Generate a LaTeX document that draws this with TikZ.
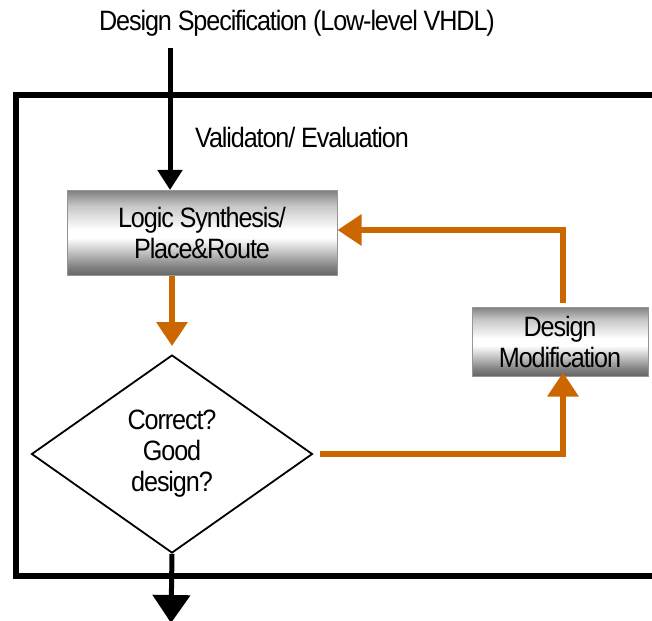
\documentclass[tikz,border=0pt]{standalone}
\usepackage{fontspec}
\setmainfont{Liberation Sans}[FakeStretch=0.9,LetterSpace=-4]
\usetikzlibrary{shapes.geometric,arrows.meta}
\definecolor{flow}{RGB}{204,102,0}
\definecolor{boxline}{RGB}{150,150,150}
\pgfdeclareverticalshading{metal}{100bp}{color(0bp)=(black!60); color(25bp)=(black!60); color(30bp)=(black!50); color(36bp)=(black!32); color(47bp)=(white); color(52bp)=(white); color(66bp)=(black!22); color(75bp)=(black!50); color(100bp)=(black!50)}
\tikzset{
  txt/.style={font=\fontsize{28}{31}\selectfont, align=center, inner sep=0pt},
  metalbox/.style={txt, shading=metal, draw=boxline, line width=1pt},
  decision/.style={txt, shape=diamond, draw=black, line width=1.8pt, minimum width=281pt, minimum height=198pt, aspect=1.42},
  frameline/.style={line width=6pt, black},
  blackarrow/.style={line width=5pt, black},
  orangearrow/.style={line width=6pt, flow, -{Triangle[width=30pt,length=24pt]}},
}
\begin{document}
\begin{tikzpicture}[x=1pt,y=-1pt]
\useasboundingbox (0,0) rectangle (652,620);
% frame
\draw[frameline] (652,95) -- (15.5,95) -- (15.5,575.5) -- (652,575.5);
% nodes
\node[txt] (spec) at (297,23) {Design Specification (Low-level VHDL)};
\node[txt, anchor=west] (val) at (195,137) {Validaton/ Evaluation};
\node[metalbox, minimum width=270pt, minimum height=85pt] (ls) at (202,233) {Logic Synthesis/\\Place\&Route};
\node[metalbox, minimum width=176pt, minimum height=69pt] (dm) at (560,341.5) {Design\\Modification};
\node[decision] (dec) at (172,454) {Correct?\\Good\\design?};
\coordinate (out) at (171,623);
\coordinate (top) at (170,48);
% connectors
\draw[blackarrow, -{Triangle[width=24pt,length=20pt]}] (top) -- (top |- ls.north);
\draw[orangearrow, shorten >=8pt] (ls.south -| dec.north) -- (dec.north);
\draw[orangearrow] (dm.north) ++(3,-4) coordinate (dmn) -- (dmn |- 0,230) -- (ls.east |- 0,230);
\draw[orangearrow] ([xshift=7pt]dec.east) -- ([xshift=3pt]dm.south |- dec.east) -- ([xshift=3pt,yshift=4pt]dm.south);
\draw[blackarrow, -{Triangle[width=37pt,length=28pt]}] (dec.south) -- (out);
\end{tikzpicture}
\end{document}
